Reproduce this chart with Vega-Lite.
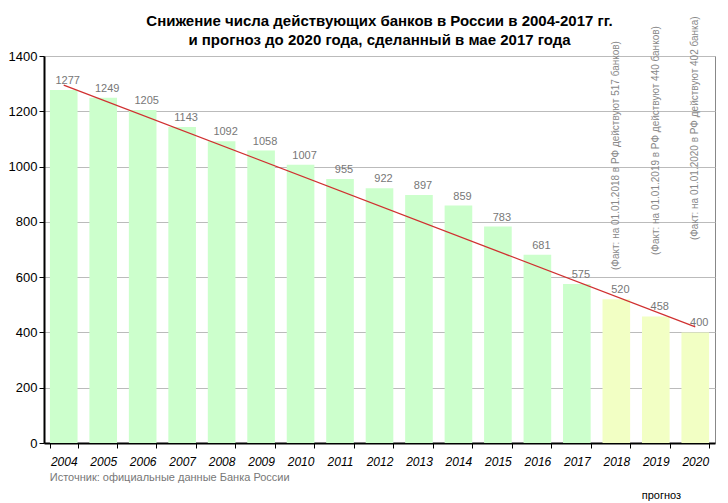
{
  "$schema": "https://vega.github.io/schema/vega-lite/v6.json",
  "width": 671,
  "height": 387,
  "autosize": {"type": "none"},
  "padding": {"left": 44, "top": 56, "right": 13, "bottom": 60},
  "background": "white",
  "title": {
    "text": ["Снижение числа действующих банков в России в 2004-2017 гг.", "и прогноз до 2020 года, сделанный в мае 2017 года"],
    "font": "Liberation Sans",
    "fontSize": 15,
    "fontWeight": "bold",
    "color": "#000",
    "anchor": "middle",
    "offset": 14,
    "lineHeight": 19,
    "dy": 46
  },
  "datasets": {
    "banks": [
      {"year": "2004", "n": 1277, "kind": "fact"},
      {"year": "2005", "n": 1249, "kind": "fact"},
      {"year": "2006", "n": 1205, "kind": "fact"},
      {"year": "2007", "n": 1143, "kind": "fact"},
      {"year": "2008", "n": 1092, "kind": "fact"},
      {"year": "2009", "n": 1058, "kind": "fact"},
      {"year": "2010", "n": 1007, "kind": "fact"},
      {"year": "2011", "n": 955, "kind": "fact"},
      {"year": "2012", "n": 922, "kind": "fact"},
      {"year": "2013", "n": 897, "kind": "fact"},
      {"year": "2014", "n": 859, "kind": "fact"},
      {"year": "2015", "n": 783, "kind": "fact"},
      {"year": "2016", "n": 681, "kind": "fact"},
      {"year": "2017", "n": 575, "kind": "fact"},
      {"year": "2018", "n": 520, "kind": "forecast"},
      {"year": "2019", "n": 458, "kind": "forecast"},
      {"year": "2020", "n": 400, "kind": "forecast"}
    ],
    "trend": [
      {"year": "2004", "v": 1295},
      {"year": "2020", "v": 420}
    ],
    "notes": [
      {"year": "2018", "y": 626, "t": "(Факт: на 01.01.2018 в РФ действуют 517 банков)"},
      {"year": "2019", "y": 680, "t": "(Факт: на 01.01.2019 в РФ действуют 440 банков)"},
      {"year": "2020", "y": 734, "t": "(Факт: на 01.01.2020 в РФ действуют 402 банка)"}
    ],
    "foot": [
      {"year": "2004", "y": -125, "t": "Источник: официальные данные Банка России", "c": "#777"},
      {"year": "2019", "y": -190, "t": "прогноз", "c": "#000"}
    ]
  },
  "encoding": {
    "x": {
      "field": "year", "type": "ordinal",
      "scale": {"paddingInner": 0.3, "paddingOuter": 0.15},
      "axis": {
        "title": null, "labelAngle": 0, "labelFont": "Liberation Sans", "labelFontSize": 12,
        "labelFontStyle": "italic", "labelColor": "#000", "domainColor": "#000", "tickColor": "#000",
        "tickBand": "extent", "tickSize": 5, "labelPadding": 8, "domainWidth": 2
      }
    }
  },
  "layer": [
    {
      "data": {"name": "banks"},
      "mark": {"type": "bar"},
      "encoding": {
        "y": {
          "field": "n", "type": "quantitative",
          "scale": {"domain": [0, 1400]},
          "axis": {
            "title": null, "format": "d", "values": [0, 200, 400, 600, 800, 1000, 1200, 1400],
            "labelFont": "Liberation Sans", "labelFontSize": 13, "labelColor": "#000",
            "gridColor": "#bbb", "domainColor": "#000", "domainWidth": 2, "tickColor": "#000", "tickSize": 5
          }
        },
        "color": {
          "field": "kind", "type": "nominal",
          "scale": {"domain": ["fact", "forecast"], "range": ["#ccffcc", "#f2ffc4"]},
          "legend": null
        }
      }
    },
    {
      "data": {"name": "banks"},
      "mark": {"type": "text", "dy": -9, "dx": 4, "font": "Liberation Sans", "fontSize": 11, "color": "#777"},
      "encoding": {
        "y": {"field": "n", "type": "quantitative", "scale": {"domain": [0, 1400]}},
        "text": {"field": "n"}
      }
    },
    {
      "data": {"name": "trend"},
      "mark": {"type": "line", "color": "#d03030", "strokeWidth": 1.3},
      "encoding": {"y": {"field": "v", "type": "quantitative", "scale": {"domain": [0, 1400]}}}
    },
    {
      "data": {"name": "notes"},
      "mark": {"type": "text", "angle": 270, "align": "left", "baseline": "middle", "dx": 0, "font": "Liberation Sans", "fontSize": 10, "color": "#888", "clip": false},
      "encoding": {
        "y": {"field": "y", "type": "quantitative", "scale": {"domain": [0, 1400]}},
        "text": {"field": "t"}
      }
    },
    {
      "data": {"name": "foot"},
      "mark": {"type": "text", "align": "left", "dx": -14, "font": "Liberation Sans", "fontSize": 11, "clip": false},
      "encoding": {
        "y": {"field": "y", "type": "quantitative", "scale": {"domain": [0, 1400]}},
        "text": {"field": "t"},
        "color": {"field": "c", "type": "nominal", "scale": null}
      }
    }
  ],
  "config": {"view": {"stroke": "#888"}}
}
